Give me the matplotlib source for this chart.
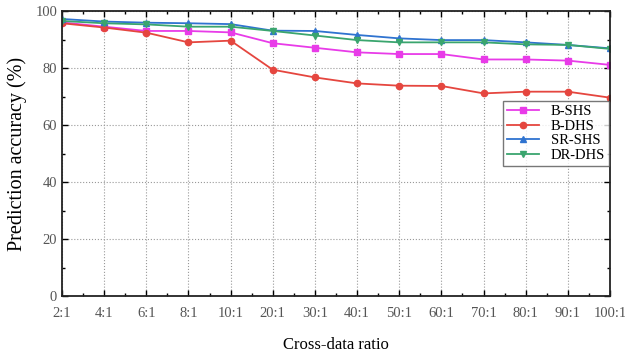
import numpy as np
import matplotlib.pyplot as plt
from matplotlib.ticker import MultipleLocator

ratios = ["2:1", "4:1", "6:1", "8:1", "10:1", "20:1", "30:1", "40:1",
          "50:1", "60:1", "70:1", "80:1", "90:1", "100:1"]
b_shs = [96.0, 94.5, 93.0, 93.0, 92.5, 88.7, 87.1, 85.5, 84.9, 84.9, 83.0, 83.0, 82.6, 81.1]
b_dhs = [95.7, 94.2, 92.4, 89.0, 89.6, 79.4, 76.7, 74.6, 73.8, 73.7, 71.1, 71.7, 71.7, 69.6]
sr_shs = [97.2, 96.3, 95.9, 95.7, 95.4, 93.1, 93.0, 91.6, 90.4, 89.8, 89.8, 89.0, 88.1, 86.9]
dr_dhs = [96.5, 95.7, 95.3, 94.5, 94.5, 93.0, 91.4, 89.8, 89.0, 89.0, 89.0, 88.3, 88.1, 86.7]

plt.rcParams['font.family'] = ['Liberation Serif', 'DejaVu Serif']

fig = plt.figure(figsize=(6.25, 3.55), dpi=100)
ax = fig.add_axes([0.0992, 0.166, 0.8768, 0.803])
x = np.arange(len(ratios))

ax.plot(x, b_shs, color='#e83be8', marker='s', ms=4.5, lw=1.3, label='B-SHS')
ax.plot(x, b_dhs, color='#e5463f', marker='o', ms=4.5, lw=1.3, label='B-DHS')
ax.plot(x, sr_shs, color='#2f73d0', marker='^', ms=5, lw=1.3, label='SR-SHS')
ax.plot(x, dr_dhs, color='#3aa56e', marker='v', ms=5, lw=1.3, label='DR-DHS')

ax.set_xlim(0, len(ratios) - 1)
ax.set_ylim(0, 100)
ax.set_xticks(x)
ax.set_xticklabels(ratios)
ax.xaxis.set_minor_locator(MultipleLocator(0.5))
ax.yaxis.set_major_locator(MultipleLocator(20))
ax.yaxis.set_minor_locator(MultipleLocator(10))
ax.tick_params(which='both', direction='in', top=True, right=True,
               labelsize=10.5, labelcolor='#555555', width=1.0)
ax.tick_params(which='major', length=4)
ax.tick_params(which='minor', length=2.5)
ax.tick_params(axis='x', pad=8)
for s in ax.spines.values():
    s.set_linewidth(1.3)
    s.set_color('#222222')

ax.grid(True, which='major', linestyle=':', color='#999999', lw=0.8)

ax.set_xlabel('Cross-data ratio', fontsize=12, labelpad=12)
ax.set_ylabel('Prediction accuracy (%)', fontsize=14.5, labelpad=6)

leg = ax.legend(loc='upper right', bbox_to_anchor=(0.998, 0.684), fontsize=10.5,
                frameon=True, fancybox=False, edgecolor='#555555',
                handlelength=2.2, borderpad=0.25, labelspacing=0.1,
                borderaxespad=0)
leg.get_frame().set_linewidth(1.0)

fig.savefig('out.png', dpi=100)
